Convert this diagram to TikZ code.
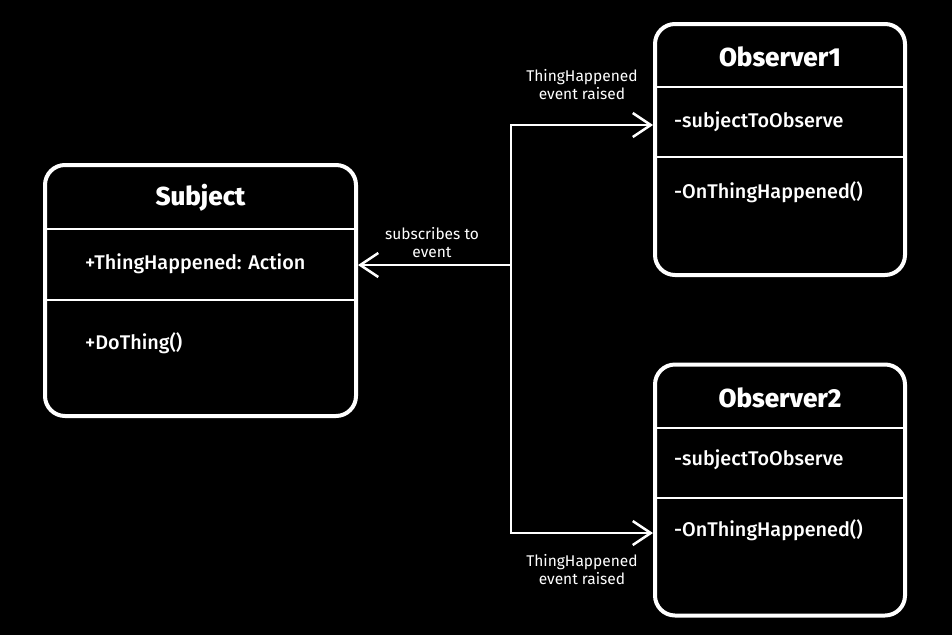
\documentclass[tikz,border=0pt]{standalone}
\usepackage{fontspec}
\setmainfont{Fira Sans}
\newfontfamily\medfont{Fira Sans Medium}
\newfontfamily\heavyfont{Fira Sans ExtraBold}
\usetikzlibrary{arrows.meta}
\begin{document}
\begin{tikzpicture}[x=1pt,y=-1pt,
  box/.style={draw=white,line width=4pt,rounded corners=20pt,minimum width=250pt,minimum height=251pt,inner sep=0pt},
  div/.style={draw=white,line width=2.5pt},
  title/.style={text=white,font=\heavyfont\fontsize{26}{30}\selectfont,inner sep=0pt},
  item/.style={text=white,font=\medfont\fontsize{19.8}{24}\selectfont,anchor=west,inner sep=0pt},
  lbl/.style={text=white,font=\fontsize{15.5}{18}\selectfont,align=center,inner sep=0pt},
  conn/.style={draw=white,line width=2.5pt,{Straight Barb[length=18pt,width=24pt,line width=2.5pt]}-{Straight Barb[length=18pt,width=24pt,line width=2.5pt]}},
  connr/.style={draw=white,line width=2.5pt,-{Straight Barb[length=18pt,width=24pt,line width=2.5pt]}}]
\fill[black] (0,0) rectangle (952,635);
\useasboundingbox (0,0) rectangle (952,635);
% boxes
\node[box,minimum width=311pt] (sub) at (200.5,290.5) {};
\node[box] (o1) at (780,149.5) {};
\node[box] (o2) at (780,490) {};
% dividers
\draw[div] (sub.west |- 0,229) -- (sub.east |- 0,229);
\draw[div] (sub.west |- 0,300) -- (sub.east |- 0,300);
\draw[div] (o1.west |- 0,87) -- (o1.east |- 0,87);
\draw[div] (o1.west |- 0,157) -- (o1.east |- 0,157);
\draw[div] (o2.west |- 0,428) -- (o2.east |- 0,428);
\draw[div] (o2.west |- 0,498) -- (o2.east |- 0,498);
% titles
\node[title] (subt) at (200.5,198) {Subject};
\node[title] (o1t) at (780,57) {Observer1};
\node[title] (o2t) at (780,398) {Observer2};
% items
\node[item] (s1) at (85,264) {+ThingHappened: Action};
\node[item] (s2) at (85,343) {+DoThing()};
\node[item] (a1) at (674,122) {-subjectToObserve};
\node[item] (a2) at (674,192) {-OnThingHappened()};
\node[item] (b1) at (674,460) {-subjectToObserve};
\node[item] (b2) at (674,530) {-OnThingHappened()};
% connectors
\coordinate (jt) at (511,125);
\coordinate (jm) at (511,265);
\coordinate (jb) at (511,533);
\draw[conn] (o1.west |- jt) -- (jt) -- (jb) -- (o2.west |- jb);
\draw[connr] (jm) -- (sub.east |- jm);
% labels
\node[lbl] (l1) at (582,85) {ThingHappened\\event raised};
\node[lbl] (l2) at (582,570) {ThingHappened\\event raised};
\node[lbl] (l3) at (432,243) {subscribes to\\event};
\end{tikzpicture}
\end{document}
